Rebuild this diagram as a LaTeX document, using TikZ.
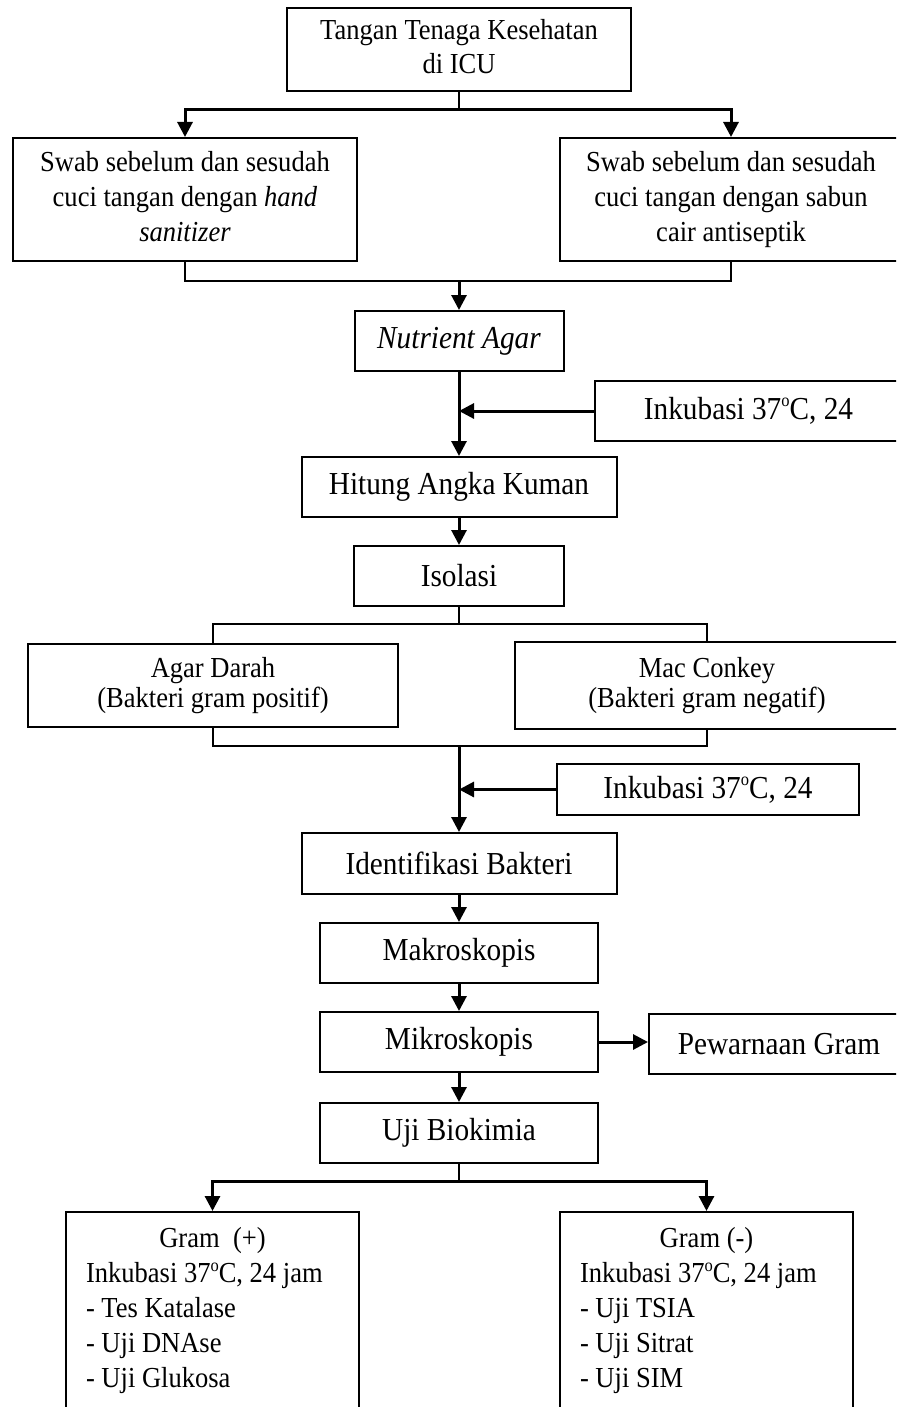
\documentclass[tikz,border=0pt]{standalone}
\usepackage{fontspec}
\setmainfont{Liberation Serif}[FakeStretch=0.915]
\usepackage{tikz}
\usetikzlibrary{arrows.meta}

\newcommand{\degsup}{\raisebox{0.4em}{\fontsize{9}{9}\selectfont o}}

\tikzset{
  box/.style={draw, line width=1pt, align=center, inner sep=0pt},
  txtbox/.style={box, font=\fontsize{14.5}{17.5}\selectfont},
  bigbox/.style={box, font=\fontsize{16}{19}\selectfont},
  listbox/.style={box, align=flush left, anchor=north, text width=126.5pt, inner xsep=10pt,
    minimum width=146.5pt, minimum height=99pt, font=\fontsize{14.5}{17.5}\selectfont},
  arr/.style={line width=1.5pt, -{Triangle[length=7.5pt,width=7.5pt]}},
  conn/.style={line width=1pt}
}

\begin{document}
\begin{tikzpicture}[x=0.5pt,y=-0.5pt]
\clip (0,0) rectangle (896,1407);
\fill[white] (0,0) rectangle (896,1407);
\node[txtbox, minimum width=172pt, minimum height=41.5pt, font=\fontsize{14.5}{17}\selectfont] (tangan) at (459,49.5) {Tangan Tenaga Kesehatan\\di ICU\vphantom{g}};
\node[txtbox, minimum width=172pt, minimum height=61.5pt] (swabL) at (185,199.5) {Swab sebelum dan sesudah\\cuci tangan dengan \textit{hand}\\\textit{sanitizer}\vphantom{p}};
\node[txtbox, minimum width=171pt, minimum height=61.5pt] (swabR) at (731,199.5) {Swab sebelum dan sesudah\\cuci tangan dengan sabun\\cair antiseptik};
\node[bigbox, minimum width=104.5pt, minimum height=30pt] (nutrient) at (459,341) {\textit{Nutrient Agar}};
\node[bigbox, minimum width=153.5pt, minimum height=30pt] (inkA) at (748.5,411) {Inkubasi 37\degsup C, 24};
\node[bigbox, minimum width=157.5pt, minimum height=30pt] (hitung) at (459,487) {Hitung Angka Kuman};
\node[bigbox, minimum width=105pt, minimum height=30pt] (isolasi) at (459,576) {Isolasi};
\node[txtbox, minimum width=185pt, minimum height=41.5pt, font=\fontsize{14.5}{15}\selectfont] (agar) at (213,685.5) {Agar Darah\\(Bakteri gram positif)};
\node[txtbox, minimum width=192pt, minimum height=43.5pt, font=\fontsize{14.5}{15}\selectfont] (mac) at (707,685.5) {Mac Conkey\\(Bakteri gram negatif)};
\node[bigbox, minimum width=151pt, minimum height=25.5pt] (inkB) at (708,789.5) {Inkubasi 37\degsup C, 24};
\node[bigbox, minimum width=157.5pt, minimum height=30.5pt] (identifikasi) at (459,863.5) {Identifikasi Bakteri};
\node[bigbox, minimum width=139pt, minimum height=30pt] (makro) at (459,953) {Makroskopis};
\node[bigbox, minimum width=139pt, minimum height=30pt] (mikro) at (459,1042) {Mikroskopis};
\node[bigbox, minimum width=130pt, minimum height=30pt] (pewarnaan) at (779,1044) {Pewarnaan Gram};
\node[bigbox, minimum width=139pt, minimum height=30pt] (biokimia) at (459,1133) {Uji Biokimia};
\node[listbox] (gramP) at (212.5,1211) {\makebox[\linewidth]{Gram\ \ (+)}\\Inkubasi 37\degsup C, 24 jam\\- Tes Katalase\\- Uji DNAse\\- Uji Glukosa};
\node[listbox] (gramN) at (706.5,1211) {\makebox[\linewidth]{Gram (-)}\\Inkubasi 37\degsup C, 24 jam\\- Uji TSIA\\- Uji Sitrat\\- Uji SIM};

\draw[conn] (tangan.south) -- ++(0,18) coordinate (splitA);
\draw[arr] (splitA) -| (swabL.north);
\draw[arr] (splitA) -| (swabR.north);
\coordinate (mergeA) at (459,281);
\draw[conn] (swabL.south) |- (mergeA) -| (swabR.south);
\draw[arr] (mergeA) -- (nutrient.north);
\draw[arr] (nutrient.south) -- (hitung.north);
\draw[arr] (inkA.west) -- (inkA.west -| nutrient.south);
\draw[arr] (hitung.south) -- (isolasi.north);
\draw[conn] (isolasi.south) -- ++(0,17) coordinate (splitB);
\draw[conn] (splitB) -| (agar.north);
\draw[conn] (splitB) -| (mac.north);
\coordinate (mergeB) at (459,746);
\draw[conn] (agar.south) |- (mergeB) -| (mac.south);
\draw[arr] (mergeB) -- (identifikasi.north);
\draw[arr] (inkB.west) -- (inkB.west -| identifikasi.north);
\draw[arr] (identifikasi.south) -- (makro.north);
\draw[arr] (makro.south) -- (mikro.north);
\draw[arr] (mikro.east) -- (mikro.east -| pewarnaan.west);
\draw[arr] (mikro.south) -- (biokimia.north);
\draw[conn] (biokimia.south) -- ++(0,17) coordinate (splitC);
\draw[arr] (splitC) -| (gramP.north);
\draw[arr] (splitC) -| (gramN.north);
\end{tikzpicture}
\end{document}
